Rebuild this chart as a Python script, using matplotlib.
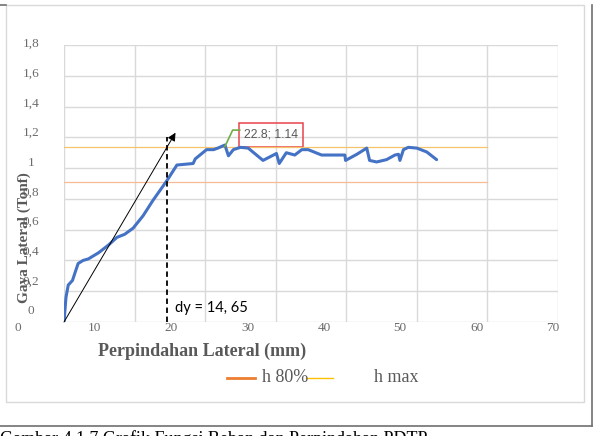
#!/usr/bin/env python
import matplotlib
matplotlib.use("Agg")
import matplotlib.pyplot as plt
from matplotlib.lines import Line2D
from matplotlib.patches import Rectangle

# load-displacement curve (mm, Tonf)
disp = [0, 0.28, 0.6, 1.2, 1.56, 2.0, 2.7, 3.45, 4.9, 6.3, 7.5, 8.6, 9.8, 11.2,
        12.6, 14.6, 16.0, 18.3, 18.6, 20.2, 21.2, 21.8, 22.8, 23.3, 24.0, 25.0,
        26.1, 28.2, 30.1, 30.5, 31.5, 32.7, 33.7, 34.6, 36.5, 39.8, 39.9, 41.5,
        42.9, 43.3, 44.3, 45.7, 46.9, 47.4, 47.6, 48.1, 48.8, 50.0, 51.4, 52.8]
force = [0, 0.16, 0.24, 0.27, 0.32, 0.38, 0.40, 0.41, 0.45, 0.50, 0.55, 0.57,
         0.61, 0.69, 0.79, 0.92, 1.02, 1.03, 1.06, 1.12, 1.12, 1.13, 1.15, 1.08,
         1.12, 1.135, 1.13, 1.05, 1.095, 1.03, 1.10, 1.085, 1.12, 1.12, 1.085,
         1.085, 1.05, 1.09, 1.13, 1.05, 1.04, 1.055, 1.085, 1.09, 1.05, 1.12,
         1.135, 1.13, 1.105, 1.055]

h_max = 1.14
h_80 = 0.8 * h_max
h_line_x = [0, 60]
peak = (22.8, 1.14)
dy = 14.65
arrow_tip = (15.8, 1.23)
dashed_top = 1.2

xtick_labels = ["0", "10", "20", "30", "40", "50", "60", "70"]
ytick_labels = ["0", "0,2", "0,4", "0,6", "0,8", "1", "1,2", "1,4", "1,6", "1,8"]

W, H = 594, 436
fig = plt.figure(figsize=(W / 100, H / 100), dpi=100)
fig.patch.set_facecolor("white")

def fx(px):
    return px / W

def fy(py):
    return 1 - py / H

ax = fig.add_axes([fx(64), fy(322), fx(558) - fx(64), fy(45) - fy(322)])
ax.set_xlim(0, 70)
ax.set_ylim(0, 1.8)
ax.set_xticks(range(0, 71, 10))
ax.set_yticks([i * 0.2 for i in range(10)])
ax.tick_params(length=0, labelbottom=False, labelleft=False)
ax.grid(True, color="#d9d9d9", lw=1)
for s in ax.spines.values():
    s.set_visible(False)
ax.set_axisbelow(True)

# reference lines
ax.plot(h_line_x, [h_max, h_max], color="#f5c36a", lw=0.9)
ax.plot(h_line_x, [h_80, h_80], color="#f5bb94", lw=0.9)

# curve
ax.plot(disp, force, color="#4472c4", lw=2.2, solid_capstyle="round",
        solid_joinstyle="round")

# stiffness arrow and dy line
ax.annotate("", xy=arrow_tip, xytext=(0, 0),
            arrowprops=dict(arrowstyle="-|>", color="black", lw=0.7,
                            mutation_scale=12, shrinkA=0, shrinkB=0))
ax.plot([dy, dy], [0, dashed_top], color="black", lw=1.3, ls=(0, (3, 2)))
ax.text(dy + 1.1, 0.09, "dy = 14, 65", family="Lato", fontsize=10.5,
        color="black", va="center", ha="left")

# peak label with leader
ax.plot([peak[0], 23.9, 24.9], [peak[1], 1.247, 1.247], color="#70ad47", lw=1.2)
ax.add_patch(Rectangle((24.8, 1.14), 9.1, 0.156, fill=False, ec="#e8434a",
                       lw=1.1, clip_on=False))
ax.text(29.35, 1.218, "22.8; 1.14", family="Liberation Sans", fontsize=8.7,
        color="#595959", ha="center", va="center")

# tick labels (offset as in the reference)
for i, lab in enumerate(xtick_labels):
    fig.text(fx(18.3 + 76.4 * i), fy(328), lab, family="Liberation Serif",
             fontsize=9.5, color="#6b6b6b", ha="center", va="center")
for i, lab in enumerate(ytick_labels):
    fig.text(fx(31), fy(311 - 29.67 * i), lab, family="Liberation Serif",
             fontsize=9.5, color="#6b6b6b", ha="center", va="center")

fig.text(fx(202), fy(351), "Perpindahan Lateral (mm)", family="Liberation Serif",
         fontweight="bold", fontsize=13, color="#595959", ha="center", va="center")
fig.text(fx(24), fy(238), "Gaya Lateral (Tonf)", family="Liberation Serif",
         fontweight="bold", fontsize=11, color="#595959", rotation=90,
         ha="center", va="center")

# legend
fig.add_artist(Line2D([fx(227), fx(255)], [fy(378), fy(378)], color="#ed7d31", lw=2))
fig.text(fx(262), fy(377), "h 80%", family="Liberation Serif", fontsize=13,
         color="#595959", ha="left", va="center")
fig.add_artist(Line2D([fx(306), fx(333)], [fy(378), fy(378)], color="#ffc000", lw=1))
fig.text(fx(374), fy(377), "h max", family="Liberation Serif", fontsize=13,
         color="#595959", ha="left", va="center")

# chart frame and page edges
fig.add_artist(Rectangle((fx(6), fy(402)), fx(584) - fx(6), fy(5) - fy(402),
                         fill=False, ec="#d9d9d9", lw=1))
fig.add_artist(Line2D([fx(592), fx(592)], [fy(5), fy(426)], color="#707070", lw=1.2))
fig.add_artist(Line2D([0, fx(592)], [fy(426), fy(426)], color="#707070", lw=1.2))
fig.add_artist(Line2D([0, fx(6)], [fy(5), fy(5)], color="#707070", lw=1.2))

fig.text(0, fy(430), "Gambar 4.1.7 Grafik Fungsi Beban dan Perpindahan PDTP",
         family="Liberation Serif", fontsize=13, color="black", ha="left", va="top")

plt.savefig("out.png", dpi=100)
